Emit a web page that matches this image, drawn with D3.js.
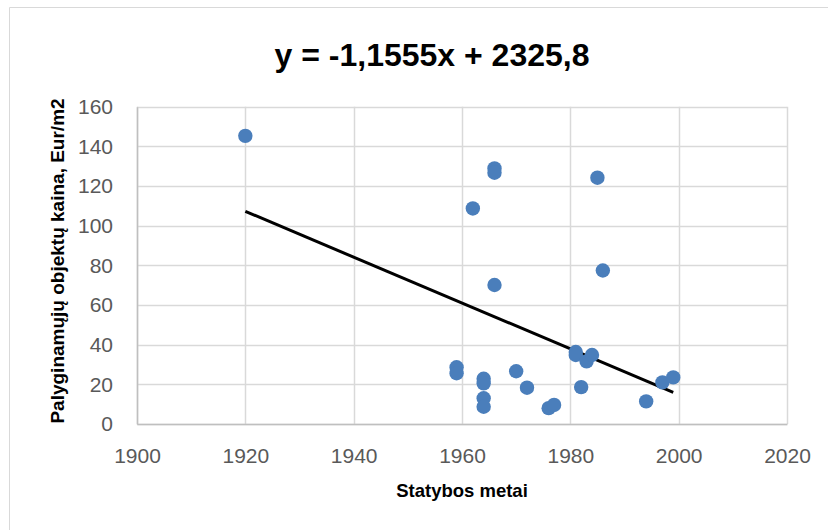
<!DOCTYPE html>
<html>
<head>
<meta charset="utf-8">
<script src="https://cdn.jsdelivr.net/npm/d3@7"></script>
<style>
  html, body { margin: 0; padding: 0; background: #ffffff; }
  svg { display: block; }
</style>
</head>
<body>
<svg id="chart" width="828" height="530"></svg>
<script>
// ---- data ----
const years  = [1920, 1959, 1959, 1962, 1964, 1964, 1964, 1964, 1966, 1966, 1966, 1970, 1972, 1976, 1977, 1981, 1981, 1982, 1983, 1984, 1985, 1986, 1994, 1997, 1999];
const prices = [145.3, 28.6, 25.6, 108.7, 22.8, 20.5, 13.0, 8.7, 128.9, 126.7, 70.1, 26.6, 18.3, 8.0, 9.6, 36.3, 34.8, 18.6, 31.6, 34.8, 124.2, 77.4, 11.4, 21.0, 23.5];
const xTicks = [1900, 1920, 1940, 1960, 1980, 2000, 2020];
const yTicks = [0, 20, 40, 60, 80, 100, 120, 140, 160];
const slope = -1.1555, intercept = 2325.8;
const titleText = "y = -1,1555x + 2325,8";
const xTitle = "Statybos metai";
const yTitle = "Palyginamųjų objektų kaina, Eur/m2";

// ---- layout ----
const svg = d3.select("#chart");
const plot = { left: 137, right: 787, top: 106.7, bottom: 424 };

const x = d3.scaleLinear().domain([1900, 2020]).range([plot.left, plot.right]);
const y = d3.scaleLinear().domain([0, 160]).range([plot.bottom, plot.top]);

// chart area border (top + left visible)
svg.append("path")
  .attr("d", "M9.5,530 L9.5,7.5 L828,7.5")
  .attr("fill", "none").attr("stroke", "#d9d9d9").attr("stroke-width", 1);

// gridlines
const grid = svg.append("g");
grid.selectAll(".hg").data(yTicks).enter().append("line")
  .attr("x1", plot.left).attr("x2", plot.right)
  .attr("y1", d => Math.round(y(d)) + 0.5).attr("y2", d => Math.round(y(d)) + 0.5)
  .attr("stroke", "#d9d9d9").attr("stroke-width", 1.5);
grid.selectAll(".vg").data(xTicks).enter().append("line")
  .attr("y1", plot.top).attr("y2", plot.bottom)
  .attr("x1", d => Math.round(x(d)) + 0.5).attr("x2", d => Math.round(x(d)) + 0.5)
  .attr("stroke", "#d9d9d9").attr("stroke-width", 1.5);

// axes
const xAxis = d3.axisBottom(x).tickValues(xTicks).tickSize(0).tickPadding(24).tickFormat(d3.format("d"));
const yAxis = d3.axisLeft(y).tickValues(yTicks).tickSize(0).tickPadding(24).tickFormat(d3.format("d"));

const gx = svg.append("g").attr("transform", `translate(0,${plot.bottom})`).call(xAxis);
const gy = svg.append("g").attr("transform", `translate(${plot.left},0)`).call(yAxis);
[gx, gy].forEach(g => {
  g.select(".domain").attr("stroke", "#bfbfbf").attr("stroke-width", 1.5);
  g.selectAll("text")
    .attr("fill", "#595959")
    .style("font-family", "'Liberation Sans', Arial, sans-serif")
    .style("font-size", "21px");
});

// trendline
const xMin = d3.min(years), xMax = d3.max(years);
svg.append("line")
  .attr("x1", x(xMin)).attr("y1", y(slope * xMin + intercept))
  .attr("x2", x(xMax)).attr("y2", y(slope * xMax + intercept))
  .attr("stroke", "#000").attr("stroke-width", 3);

// points
svg.append("g").selectAll("circle").data(years.map((d, i) => [d, prices[i]])).enter()
  .append("circle")
  .attr("cx", d => x(d[0])).attr("cy", d => y(d[1]))
  .attr("r", 7.2)
  .attr("fill", "#4a7ebb");

// titles
svg.append("text")
  .attr("x", 432).attr("y", 66)
  .attr("text-anchor", "middle")
  .style("font-family", "'Liberation Sans', Arial, sans-serif")
  .style("font-weight", "bold").style("font-size", "32px")
  .attr("fill", "#000")
  .text(titleText);

svg.append("text")
  .attr("x", 462).attr("y", 497)
  .attr("text-anchor", "middle")
  .style("font-family", "'Liberation Sans', Arial, sans-serif")
  .style("font-weight", "bold").style("font-size", "18.5px")
  .attr("fill", "#000")
  .text(xTitle);

svg.append("text")
  .attr("transform", "translate(64,261) rotate(-90)")
  .attr("text-anchor", "middle")
  .style("font-family", "'Liberation Sans', Arial, sans-serif")
  .style("font-weight", "bold").style("font-size", "19px")
  .attr("fill", "#000")
  .text(yTitle);
</script>
</body>
</html>
